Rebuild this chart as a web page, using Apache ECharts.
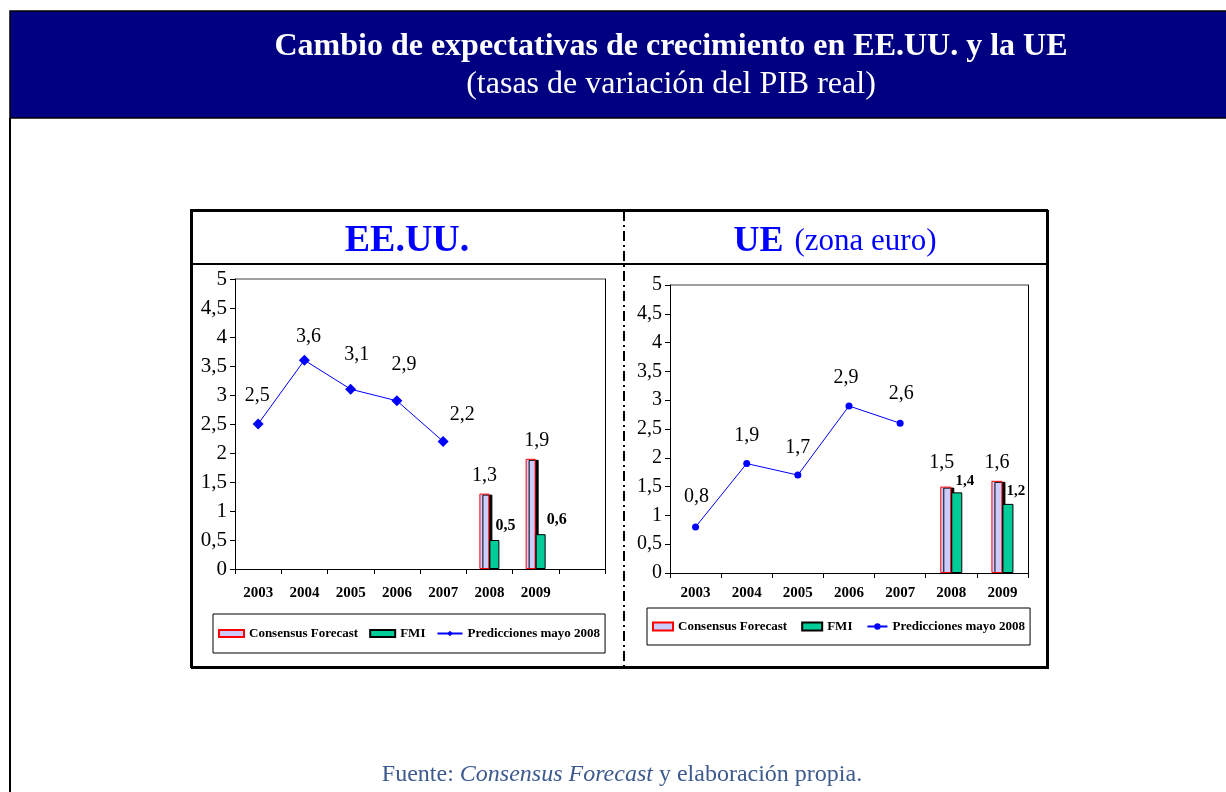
<!DOCTYPE html>
<html>
<head>
<meta charset="utf-8">
<script src="https://cdn.jsdelivr.net/npm/echarts@6/dist/echarts.min.js"></script>
<style>
  html, body { margin: 0; padding: 0; background: #fff; }
  #chart { width: 1226px; height: 792px; }
</style>
</head>
<body>
<div id="chart"></div>
<script>
// datos
var usYears = ['2003', '2004', '2005', '2006', '2007', '2008', '2009', ''];
var euYears = ['2003', '2004', '2005', '2006', '2007', '2008', '2009'];
var usPred = [2.5, 3.6, 3.1, 2.9, 2.2, null, null, null];
var usConsensus = [null, null, null, null, null, 1.3, 1.9, null];
var usFmi = [null, null, null, null, null, 0.5, 0.6, null];
var euPred = [0.8, 1.9, 1.7, 2.9, 2.6, null, null];
var euConsensus = [null, null, null, null, null, 1.5, 1.6];
var euFmi = [null, null, null, null, null, 1.4, 1.2];
var yTicks = [0, 0.5, 1, 1.5, 2, 2.5, 3, 3.5, 4, 4.5, 5];

// posiciones de etiquetas (colocadas a mano como en el original)
var usPredOff = [[-1, -28], [4, -23], [6, -34], [7, -36], [19, -27]];
var euPredOff = [[1, -30], [0, -28], [0, -27], [-3, -28], [1, -29]];
var usConsOff = {5: [0, -3], 6: [6, -3]};
var usFmiOff = {5: [11, -1], 6: [16, -1]};
var euConsOff = {5: [-4, -9], 6: [0, -3]};
var euFmiOff = {5: [8, 1], 6: [8, 0]};

var serif = 'Liberation Serif';
var comma = function (v) { return String(v).replace('.', ','); };

function withOffsets(arr, offs) {
  return arr.map(function (v, i) {
    if (v == null) return null;
    var o = offs[i];
    return o ? { value: v, label: { offset: o } } : v;
  });
}

var splitColors = yTicks.map(function (t, i) {
  return i === yTicks.length - 1 ? '#808080' : 'transparent';
});

function yAxisMain(gi, fs) {
  return {
    gridIndex: gi, type: 'value', min: 0, max: 5, interval: 0.5,
    axisLine: { show: true, lineStyle: { color: '#000', width: 1 } },
    axisTick: { show: true, length: 5, lineStyle: { color: '#000' } },
    axisLabel: { formatter: comma, color: '#000', fontFamily: serif, fontSize: fs, margin: 8 },
    splitLine: { show: true, lineStyle: { color: splitColors, width: 1.5 } }
  };
}
function yAxisBorder(gi) {
  return {
    gridIndex: gi, type: 'value', min: 0, max: 5, position: 'right',
    axisLine: { show: true, lineStyle: { color: '#000', width: 1 } },
    axisTick: { show: false }, axisLabel: { show: false }, splitLine: { show: false }
  };
}
function xAxisCat(gi, cats, margin) {
  return {
    gridIndex: gi, type: 'category', data: cats, boundaryGap: true,
    axisLine: { show: true, lineStyle: { color: '#000', width: 1 } },
    axisTick: { show: true, length: 5, interval: 0, lineStyle: { color: '#000' } },
    axisLabel: { interval: 0, color: '#000', fontFamily: serif, fontWeight: 'bold', fontSize: 15, margin: margin },
    splitLine: { show: false }
  };
}

var consStyle = {
  color: '#ccccff', borderColor: '#ff0000', borderWidth: 1,
  shadowColor: '#000', shadowBlur: 0, shadowOffsetX: 3, shadowOffsetY: 1
};
var fmiStyle = { color: '#00cc99', borderColor: '#000', borderWidth: 1 };
var fmt = function (p) { return comma(p.value); };
var bigLabel = { show: true, position: 'top', distance: 5, formatter: fmt,
  color: '#000', fontFamily: serif, fontSize: 20 };
function smallLabel(fs) {
  return { show: true, position: 'top', distance: 5, formatter: fmt,
    color: '#000', fontFamily: serif, fontSize: fs, fontWeight: 'bold' };
}
var lineLabel = { show: true, position: 'inside', formatter: fmt,
  color: '#000', fontFamily: serif, fontSize: 20 };

function legendBox(left, top, w, h, pad, gap, names) {
  return {
    left: left, top: top, orient: 'horizontal', selectedMode: false,
    padding: pad, borderColor: '#000', borderWidth: 1,
    itemWidth: w, itemHeight: h, itemGap: gap,
    textStyle: { fontFamily: serif, fontWeight: 'bold', fontSize: 13, color: '#000' },
    formatter: function (n) { return n.trim(); },
    data: [
      { name: names[0], icon: 'rect', itemStyle: { shadowColor: 'transparent', shadowOffsetX: 0, shadowOffsetY: 0 } },
      { name: names[1], icon: 'rect' },
      { name: names[2] }
    ]
  };
}

var chart = echarts.init(document.getElementById('chart'), null, { renderer: 'canvas' });

var option = {
  backgroundColor: '#fff',
  animation: false,
  grid: [
    { left: 235, top: 279, width: 370, height: 290 },
    { left: 670, top: 285, width: 358, height: 288 }
  ],
  xAxis: [xAxisCat(0, usYears, 17), xAxisCat(1, euYears, 13)],
  yAxis: [yAxisMain(0, 21), yAxisBorder(0), yAxisMain(1, 20), yAxisBorder(1)],
  legend: [
    legendBox(213, 614, 25, 7, [13, 5], 11, ['Consensus Forecast', 'FMI', 'Predicciones mayo 2008']),
    legendBox(647, 608, 20, 8, [12, 5], 14, ['Consensus Forecast ', 'FMI ', 'Predicciones mayo 2008 '])
  ],
  series: [
    {
      name: 'Consensus Forecast', type: 'bar', xAxisIndex: 0, yAxisIndex: 0,
      barWidth: 10, barGap: '0%', itemStyle: consStyle, label: bigLabel,
      data: withOffsets(usConsensus, usConsOff)
    },
    {
      name: 'FMI', type: 'bar', xAxisIndex: 0, yAxisIndex: 0,
      barWidth: 10, barGap: '0%', itemStyle: fmiStyle, label: smallLabel(16),
      data: withOffsets(usFmi, usFmiOff)
    },
    {
      name: 'Predicciones mayo 2008', type: 'line', xAxisIndex: 0, yAxisIndex: 0,
      symbol: 'diamond', symbolSize: 11, showAllSymbol: true,
      lineStyle: { color: '#0000ff', width: 1 }, itemStyle: { color: '#0000ff' },
      label: lineLabel, data: withOffsets(usPred, usPredOff)
    },
    {
      name: 'Consensus Forecast ', type: 'bar', xAxisIndex: 1, yAxisIndex: 2,
      barWidth: 11, barGap: '0%', itemStyle: consStyle, label: bigLabel,
      data: withOffsets(euConsensus, euConsOff)
    },
    {
      name: 'FMI ', type: 'bar', xAxisIndex: 1, yAxisIndex: 2,
      barWidth: 11, barGap: '0%', itemStyle: fmiStyle, label: smallLabel(15),
      data: withOffsets(euFmi, euFmiOff)
    },
    {
      name: 'Predicciones mayo 2008 ', type: 'line', xAxisIndex: 1, yAxisIndex: 2,
      symbol: 'circle', symbolSize: 7, showAllSymbol: true,
      lineStyle: { color: '#0000ff', width: 1 }, itemStyle: { color: '#0000ff' },
      label: lineLabel, data: withOffsets(euPred, euPredOff)
    }
  ],
  graphic: [
    // cabecera azul
    { type: 'rect', shape: { x: 10, y: 11, width: 1220, height: 107 },
      style: { fill: '#000080', stroke: '#000', lineWidth: 1.5 }, z: 0 },
    { type: 'line', shape: { x1: 10, y1: 118, x2: 10, y2: 800 }, style: { stroke: '#000', lineWidth: 2 } },
    { type: 'text', x: 671, y: 47, style: { text: 'Cambio de expectativas de crecimiento en EE.UU. y la UE',
      fill: '#fff', fontFamily: serif, fontWeight: 'bold', fontSize: 32, align: 'center', verticalAlign: 'middle' } },
    { type: 'text', x: 671, y: 85, style: { text: '(tasas de variación del PIB real)',
      fill: '#fff', fontFamily: serif, fontSize: 32, align: 'center', verticalAlign: 'middle' } },
    // marco de los dos paneles
    { type: 'rect', shape: { x: 191, y: 210, width: 856, height: 457 },
      style: { fill: 'none', stroke: '#000', lineWidth: 2, shadowColor: '#000', shadowOffsetX: 1, shadowOffsetY: 1 } },
    { type: 'line', shape: { x1: 191, y1: 264, x2: 1047, y2: 264 }, style: { stroke: '#000', lineWidth: 2 } },
    { type: 'line', shape: { x1: 624, y1: 211, x2: 624, y2: 666 },
      style: { stroke: '#000', lineWidth: 2, lineDash: [10, 4, 2, 4] } },
    { type: 'text', x: 407, y: 241, style: { text: 'EE.UU.', fill: '#0000ff', fontFamily: serif,
      fontWeight: 'bold', fontSize: 38, align: 'center', verticalAlign: 'middle' } },
    { type: 'text', x: 835, y: 242, style: { text: '{a|UE}{b|(zona euro)}', align: 'center', verticalAlign: 'middle',
      rich: {
        a: { fill: '#0000ff', fontFamily: serif, fontWeight: 'bold', fontSize: 36, padding: [0, 11, 0, 0] },
        b: { fill: '#0000ff', fontFamily: serif, fontSize: 31 }
      } } },
    // fuente
    { type: 'text', x: 622, y: 775, style: { text: '{n|Fuente: }{i|Consensus Forecast}{n| y elaboración propia.}',
      align: 'center', verticalAlign: 'middle',
      rich: {
        n: { fill: '#3d5a8e', fontFamily: serif, fontSize: 24 },
        i: { fill: '#3d5a8e', fontFamily: serif, fontSize: 24, fontStyle: 'italic' }
      } } }
  ]
};

chart.setOption(option);
</script>
</body>
</html>
